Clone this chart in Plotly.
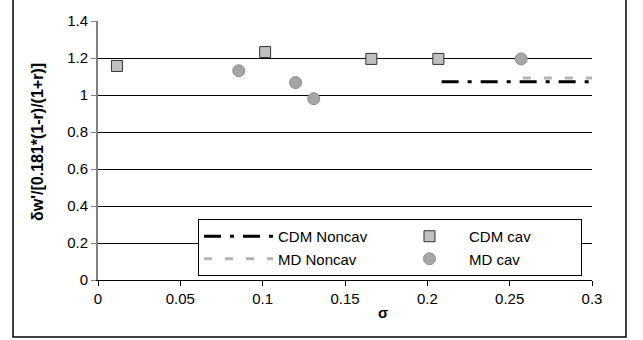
import plotly.graph_objects as go

# Data
cdm_cav_x = [0.0115, 0.1015, 0.166, 0.2067]
cdm_cav_y = [1.157, 1.232, 1.195, 1.195]
md_cav_x = [0.0855, 0.120, 0.131, 0.257]
md_cav_y = [1.131, 1.067, 0.98, 1.195]
cdm_noncav_x = [0.2087, 0.3]
cdm_noncav_y = [1.072, 1.072]
md_noncav_x = [0.258, 0.3]
md_noncav_y = [1.092, 1.092]
x_ticks = [0, 0.05, 0.1, 0.15, 0.2, 0.25, 0.3]
x_tick_labels = ["0", "0.05", "0.1", "0.15", "0.2", "0.25", "0.3"]
y_ticks = [0, 0.2, 0.4, 0.6, 0.8, 1.0, 1.2, 1.4]
y_tick_labels = ["0", "0.2", "0.4", "0.6", "0.8", "1", "1.2", "1.4"]
x_title = "σ"
y_title = "δw'/[0.181*(1-r)/(1+r)]"

FONT = "Arial"

fig = go.Figure()
fig.add_trace(go.Scatter(x=cdm_noncav_x, y=cdm_noncav_y, mode="lines", name="CDM Noncav",
                         line=dict(color="#000000", width=3, dash="17px,9px,4px,9px")))
fig.add_trace(go.Scatter(x=cdm_cav_x, y=cdm_cav_y, mode="markers", name="CDM cav",
                         marker=dict(symbol="square", size=11, color="#c0c0c0",
                                     line=dict(color="#333333", width=1))))
fig.add_trace(go.Scatter(x=md_noncav_x, y=md_noncav_y, mode="lines", name="MD Noncav",
                         line=dict(color="#b3b3b3", width=3, dash="8px,13px")))
fig.add_trace(go.Scatter(x=md_cav_x, y=md_cav_y, mode="markers", name="MD cav",
                         marker=dict(symbol="circle", size=12, color="#a6a6a6",
                                     line=dict(color="#8c8c8c", width=1))))

fig.update_layout(
    width=643, height=340,
    margin=dict(l=98, r=51, t=21, b=60),
    paper_bgcolor="white", plot_bgcolor="white",
    font=dict(family=FONT, size=15, color="#000"),
    showlegend=True,
    legend=dict(orientation="h", x=0.2024, y=0.2355, xanchor="left", yanchor="top",
                entrywidth=107, itemwidth=69, bgcolor="white", bordercolor="#000", borderwidth=1,
                font=dict(family=FONT, size=15), tracegroupgap=0),
    xaxis=dict(range=[0, 0.3], tickvals=x_ticks, ticktext=x_tick_labels,
               showgrid=False, zeroline=False, showline=True, linecolor="#000", linewidth=1,
               ticks="outside", ticklen=5, tickcolor="#000",
               tickfont=dict(family=FONT, size=15)),
    yaxis=dict(range=[0, 1.4], tickvals=y_ticks, ticktext=y_tick_labels,
               showgrid=True, gridcolor="#000", gridwidth=1, zeroline=False,
               showline=True, linecolor="#808080", linewidth=2,
               ticks="outside", ticklen=5, tickcolor="#808080",
               tickfont=dict(family=FONT, size=15)),
    annotations=[
        dict(text="<b>" + x_title + "</b>", xref="paper", yref="paper", x=0.577, y=-0.127,
             showarrow=False, xanchor="center", yanchor="middle",
             font=dict(family=FONT, size=15)),
        dict(text="<b>" + y_title + "</b>", xref="paper", yref="paper", x=-0.1215, y=0.533,
             showarrow=False, xanchor="center", yanchor="middle", textangle=-90,
             font=dict(family=FONT, size=16)),
    ],
    shapes=[dict(type="rect", xref="paper", yref="paper", x0=-0.172, x1=1.0688,
                 y0=-0.220, y1=1.085, line=dict(color="#000", width=1.5), layer="below")],
)

fig.write_html("out.html", config={"displayModeBar": False},
               post_script="document.body.style.margin='0px';")
